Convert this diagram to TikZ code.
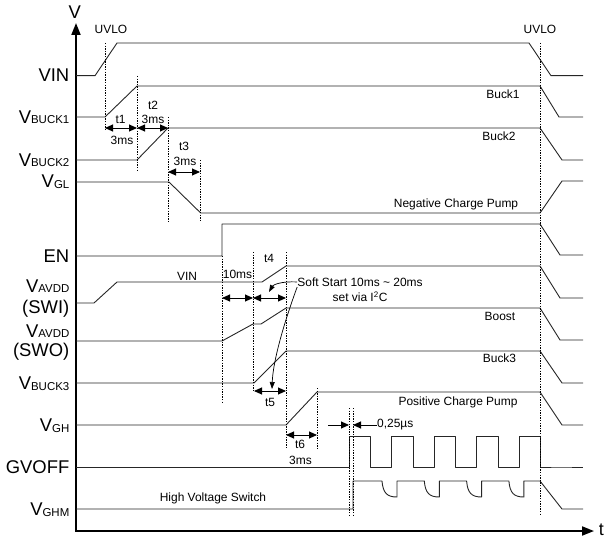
\documentclass[tikz,border=0pt]{standalone}
\usepackage{fontspec}
\setmainfont{Liberation Sans}
\usetikzlibrary{arrows.meta}

% signal name with a small subscript
\newcommand{\vsub}[1]{V{\fontsize{11.5}{12}\selectfont\raisebox{-0.5bp}{#1}}}

\begin{document}
\begin{tikzpicture}[
    x=1bp, y=-1bp,
    % Define styles for the elements
    wave/.style={
        line width=0.9bp,
        black!85,
        line join=round
      },
    axis/.style={
        line width=1.8bp,
        {Triangle[length=12bp,width=9bp]}-{Triangle[length=12bp,width=9bp]}
      },
    marker/.style={
        line width=0.6bp,
        dash pattern=on 1.4bp off 1.2bp
      },
    span/.style={
        line width=0.9bp,
        {Triangle[length=8bp,width=7bp]}-{Triangle[length=8bp,width=7bp]}
      },
    pointer/.style={
        line width=0.7bp,
        -{Triangle[length=7bp,width=5bp]}
      },
    signal/.style={
        anchor=base east,
        inner sep=0pt,
        font=\fontsize{18.5}{20}\selectfont
      },
    note/.style={
        inner sep=0pt,
        font=\fontsize{12}{14}\selectfont
      }
  ]
  \useasboundingbox (0,0) rectangle (609,537);

  % Axes
  \draw[axis] (76,23) -- (76,531) -- (594,531);
  \node[font=\fontsize{18.5}{20}\selectfont, inner sep=0pt, anchor=east] (vaxis) at (81,12) {V};
  \node[font=\fontsize{18}{20}\selectfont, inner sep=0pt, anchor=east] (taxis) at (604,530) {t};

  % Signal names
  \node[signal] (vin) at (69.5,82) {VIN};
  \node[signal] (vbuck1) at (69.5,123.5) {\vsub{BUCK1}};
  \node[signal] (vbuck2) at (69.5,166.5) {\vsub{BUCK2}};
  \node[signal] (vgl) at (69.5,188) {\vsub{GL}};
  \node[signal] (en) at (69.5,262) {EN};
  \node[signal] (vavddi) at (69.5,292) {\vsub{AVDD}};
  \node[signal] (swi) at (69.5,313) {(SWI)};
  \node[signal] (vavddo) at (69.5,337) {\vsub{AVDD}};
  \node[signal] (swo) at (69.5,356) {(SWO)};
  \node[signal] (vbuck3) at (69.5,389.5) {\vsub{BUCK3}};
  \node[signal] (vgh) at (69.5,431.5) {\vsub{GH}};
  \node[signal] (gvoff) at (69.5,473) {GVOFF};
  \node[signal] (vghm) at (69.5,515.5) {\vsub{GHM}};

  % Waveforms
  \draw[wave] (76,75.7) -- (95,75.7) -- (117,43) -- (529,43) -- (551,75.7) -- (583,75.7);
  \draw[wave] (76,117) -- (105,117) -- (137,86) -- (540,86) -- (559,117) -- (583,117);
  \draw[wave] (76,160) -- (137,160) -- (168,128) -- (540,128) -- (562,160) -- (583,160);
  \draw[wave] (76,182) -- (169,182) -- (200.7,213) -- (540,213) -- (562,181) -- (583,181);
  \draw[wave] (76,256) -- (222,256) -- (222,224) -- (540,224) -- (560,255) -- (583,255);
  \draw[wave] (76,303) -- (94,303) -- (117,282) -- (262,282) -- (286,266) -- (540,266) -- (560,298) -- (583,298);
  \draw[wave] (76,341) -- (222,341) -- (253,324) -- (261,324) -- (286,308) -- (540,308) -- (560,340) -- (583,340);
  \draw[wave] (76,383) -- (254,383) -- (286,351) -- (540,351) -- (562,383) -- (583,383);
  \draw[wave] (76,425) -- (286,425) -- (317,392) -- (540,392) -- (562,425) -- (583,425);
  \draw[wave] (76,467) -- (349,467)
    \foreach \k in {0,...,4} { -- ++(0,-31) -- ++(21.5,0) -- ++(0,31) -- ++(21,0) }
    -- (583,467);
  \draw[wave] (76,509) -- (353,509) -- (353,481)
    \foreach \k in {0,...,3} {
      -- ({382+42.3*\k},481)
      .. controls ({383+42.3*\k},493) and ({387+42.3*\k},497) .. ({397+42.3*\k},497)
      -- ({397+42.3*\k},481) }
    -- (540,481) -- (562,509) -- (583,509);

  % Time markers
  \draw[marker] (105,43) -- (105,130);
  \draw[marker] (137,76) -- (137,172);
  \draw[marker] (168,117) -- (168,222);
  \draw[marker] (200,160) -- (200,222);
  \draw[marker] (222,256) -- (222,402);
  \draw[marker] (253,252) -- (253,392);
  \draw[marker] (286,252) -- (286,448);
  \draw[marker] (317,388) -- (317,448);
  \draw[marker] (349,408) -- (349,517);
  \draw[marker] (353,408) -- (353,517);
  \draw[marker] (540,43) -- (540,515);

  % Delays between the rails
  \draw[span] (105,128) -- (137,128);
  \draw[span] (137,128) -- (168,128);
  \draw[span] (168,172) -- (200,172);
  \draw[span] (222,298) -- (253,298);
  \draw[span] (253,298) -- (286,298);
  \draw[span] (254,391) -- (286,391);
  \draw[span] (286,435) -- (317,435);
  \draw[-{Triangle[length=8bp,width=7bp]}, line width=0.9bp] (328,425) -- (349,425);
  \draw[-{Triangle[length=8bp,width=7bp]}, line width=0.9bp] (377,425) -- (353,425);

  % Labels
  \node[note] (uvlo1) at (111,29) {UVLO};
  \node[note] (uvlo2) at (540,29) {UVLO};
  \node[note] (buck1) at (503,94) {Buck1};
  \node[note] (buck2) at (499,136) {Buck2};
  \node[note] (t1) at (120.5,119) {t1};
  \node[note] (d1) at (122,140.5) {3ms};
  \node[note] (t2) at (153,105) {t2};
  \node[note] (d2) at (153,119) {3ms};
  \node[note] (t3) at (184,146) {t3};
  \node[note] (d3) at (185,161) {3ms};
  \node[note] (ncp) at (456,204) {Negative Charge Pump};
  \node[note] (vinlbl) at (187,276) {VIN};
  \node[note] (d4) at (237.5,274.5) {10ms};
  \node[note] (t4) at (269,258) {t4};
  \node[note] (softstart) at (360,282) {Soft Start 10ms \textasciitilde{} 20ms};
  \node[note] (softset) at (360,297) {set via I\textsuperscript{2}C};
  \node[note] (boost) at (500,316) {Boost};
  \node[note] (buck3) at (499.5,358) {Buck3};
  \node[note] (t5) at (270,402) {t5};
  \node[note] (pcp) at (458,402.5) {Positive Charge Pump};
  \node[note] (t6) at (300,444.5) {t6};
  \node[note] (d6) at (300.5,460) {3ms};
  \node[note, anchor=west] (dt) at (377,424.5) {0,25µs};
  \node[note] (hvs) at (213,498) {High Voltage Switch};

  % Soft start pointers
  \draw[pointer] (softstart.west) .. controls (281,281) and (273,285) .. (269,292);
  \draw[pointer] ([yshift=-5bp]softstart.west) .. controls (285,320) and (273,360) .. (272,389);

\end{tikzpicture}
\end{document}
